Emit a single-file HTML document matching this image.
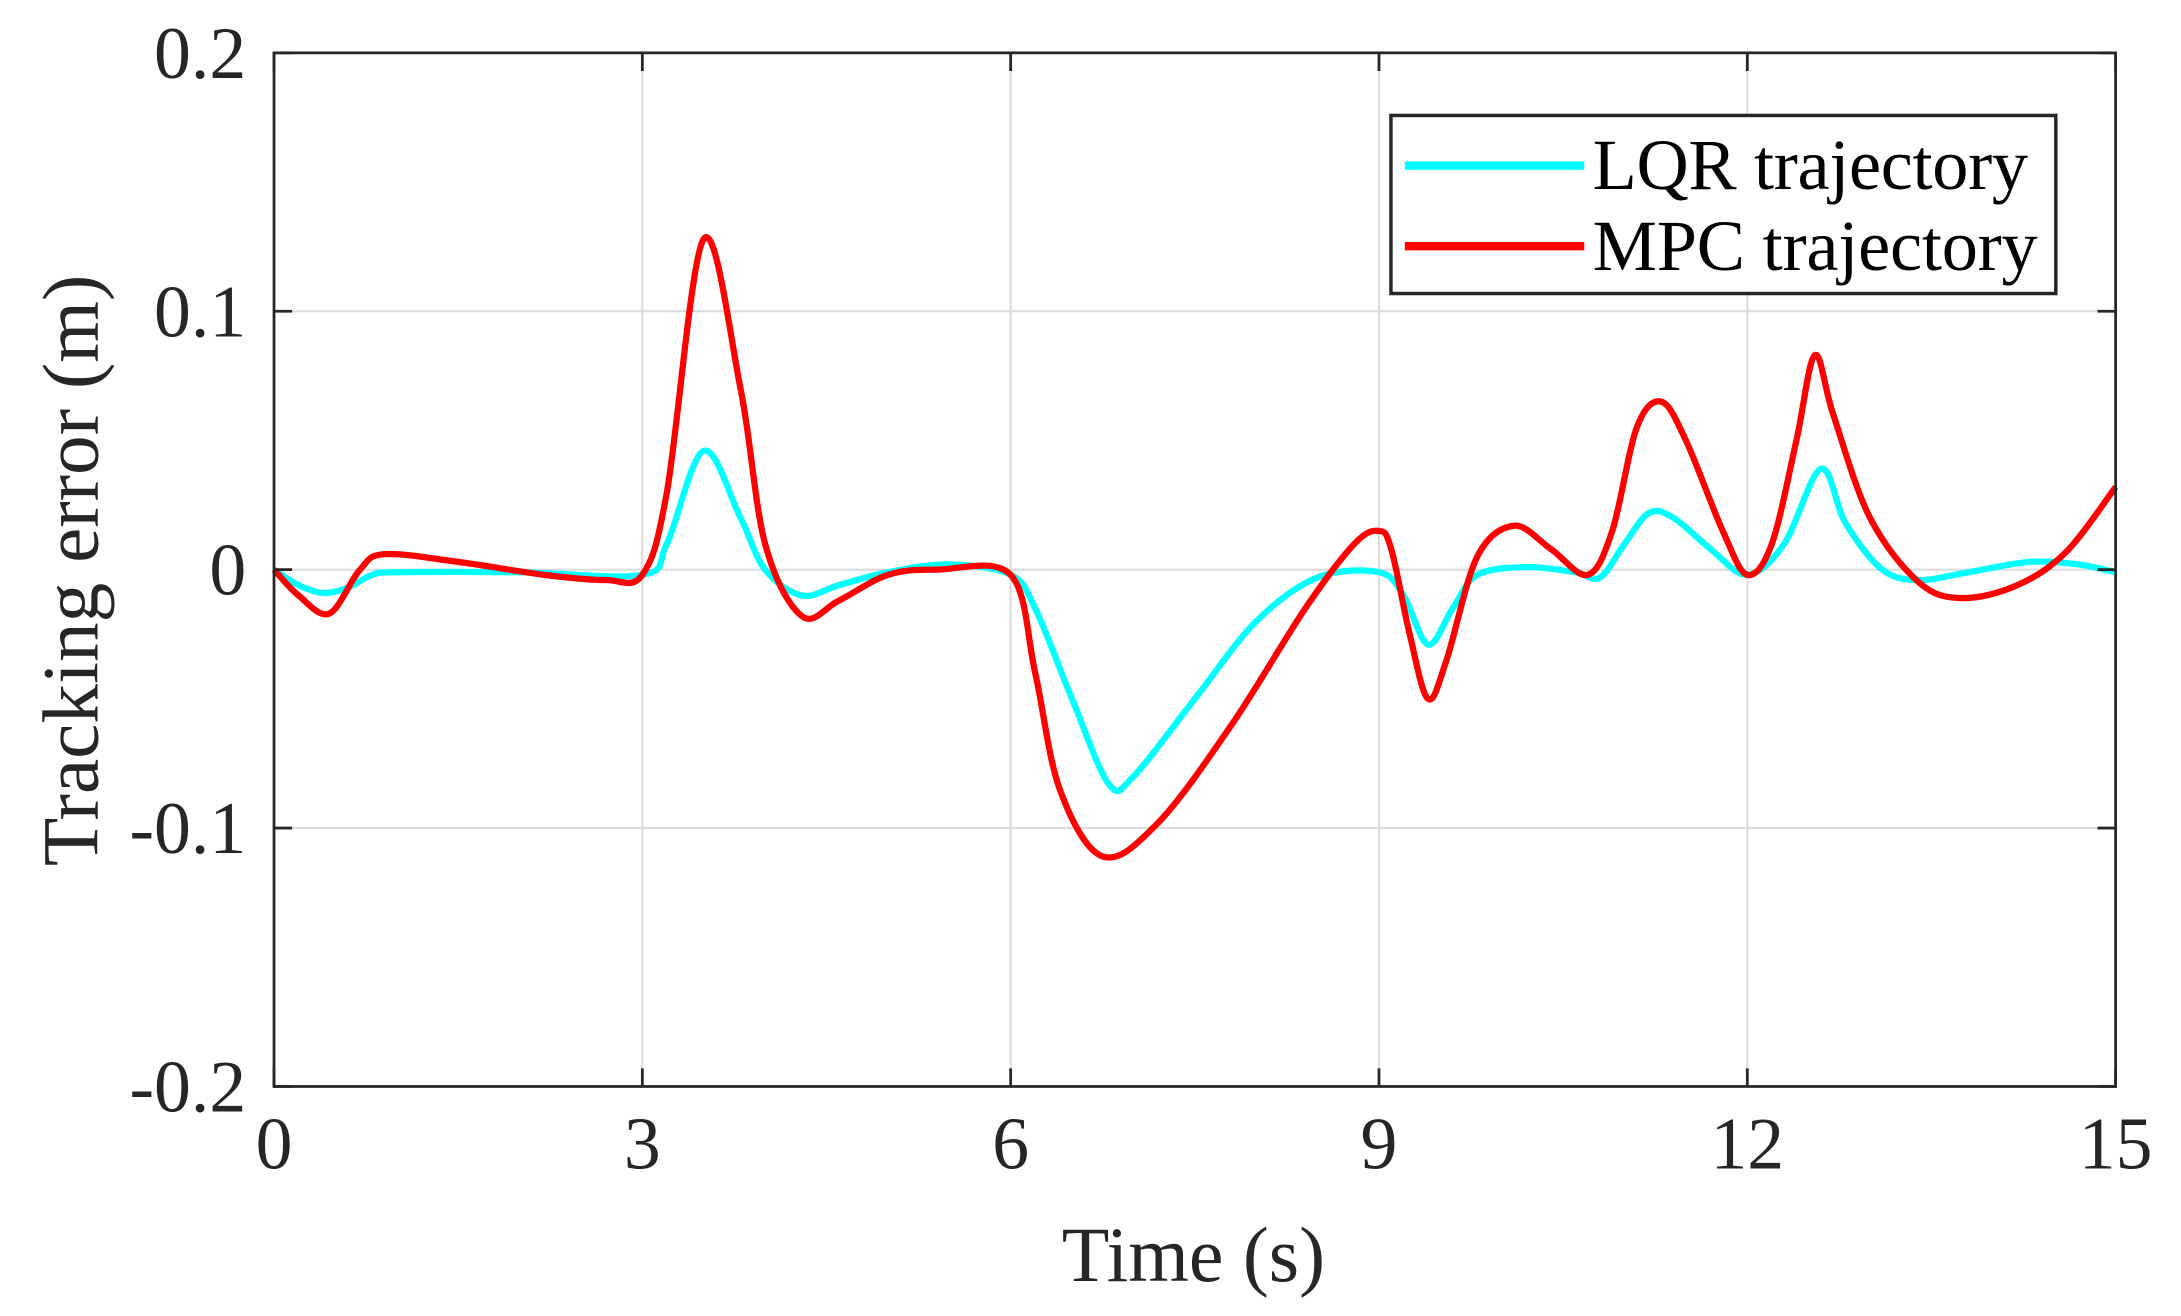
<!DOCTYPE html>
<html><head><meta charset="utf-8"><style>
html,body{margin:0;padding:0;background:#fff;}
svg{display:block;font-family:"Liberation Serif",serif;}
</style></head><body>
<svg width="2181" height="1316" viewBox="0 0 1568 946" preserveAspectRatio="none">
<g id="grid"></g>
<g id="series"></g>
<rect x="197" y="38" width="1324" height="743" fill="none" stroke="#262626" stroke-width="2"/>
<g id="ticks"></g>
<text x="858" y="921" font-size="56" text-anchor="middle" fill="#262626">Time (s)</text>
<text transform="translate(70,410) rotate(-90)" font-size="57" text-anchor="middle" fill="#262626">Tracking error (m)</text>
<g>
<rect x="1000" y="83" width="478" height="128" fill="#fff" stroke="#262626" stroke-width="2.5"/>
<line x1="1010" y1="119" x2="1139" y2="119" stroke="#00ffff" stroke-width="6"/>
<text x="1145" y="136" font-size="52" textLength="313" fill="#000">LQR trajectory</text>
<line x1="1010" y1="177" x2="1139" y2="177" stroke="#ff0000" stroke-width="6"/>
<text x="1145" y="194" font-size="52" textLength="320" fill="#000">MPC trajectory</text>
</g>
</svg>
<script>
const xTicks=[0,3,6,9,12,15];
const yTicks=[-0.2,-0.1,0,0.1,0.2];
const yTickLabels=["-0.2","-0.1","0","0.1","0.2"];
const lqrT=[0,0.2,0.4,0.6,0.8,1,2,3,3.2,3.5,3.8,4.0,4.3,4.6,5,5.5,6,6.2,6.5,6.8,7,7.5,8,8.5,9,9.2,9.4,9.6,9.8,10.2,10.6,10.8,11.0,11.2,11.4,11.7,12,12.3,12.6,12.8,13.1,13.4,13.8,14.3,14.7,15];
const lqrV=[0,-0.006,-0.009,-0.007,-0.002,-0.001,-0.001,-0.002,0.01,0.046,0.02,0.0,-0.01,-0.006,-0.001,0.002,-0.002,-0.015,-0.05,-0.083,-0.08,-0.05,-0.02,-0.003,-0.001,-0.01,-0.029,-0.015,-0.002,0.001,-0.001,-0.003,0.01,0.022,0.02,0.008,-0.002,0.01,0.039,0.018,0.0,-0.004,-0.001,0.003,0.002,-0.001];
const mpcT=[0,0.2,0.45,0.7,0.9,1.5,2.2,2.7,3,3.2,3.5,3.8,4.0,4.3,4.6,5.0,5.4,6,6.2,6.4,6.75,7.2,7.8,8.4,8.8,9,9.1,9.25,9.4,9.55,9.8,10.1,10.4,10.7,10.9,11.1,11.3,11.5,11.8,12,12.2,12.4,12.55,12.7,13.0,13.4,13.75,14.2,14.6,15];
const mpcV=[0,-0.01,-0.017,0.0,0.006,0.003,-0.002,-0.004,-0.002,0.03,0.128,0.07,0.01,-0.018,-0.012,-0.002,0.0,-0.002,-0.04,-0.085,-0.111,-0.098,-0.06,-0.015,0.01,0.015,0.008,-0.025,-0.05,-0.035,0.005,0.017,0.008,-0.002,0.015,0.055,0.065,0.05,0.015,-0.002,0.01,0.05,0.083,0.06,0.02,-0.005,-0.011,-0.006,0.007,0.032];
const NS="http://www.w3.org/2000/svg";
const X0=197,X1=1521,Y0=781,Y1=38;
const sx=t=>X0+(t-0)/(15-0)*(X1-X0);
const sy=v=>Y0-(v+0.2)/0.4*(Y0-Y1);
const grid=document.getElementById('grid'),ticks=document.getElementById('ticks'),series=document.getElementById('series');
function mk(tag,attrs,parent){const e=document.createElementNS(NS,tag);for(const k in attrs)e.setAttribute(k,attrs[k]);parent.appendChild(e);return e;}
xTicks.forEach((t,i)=>{
  if(i>0&&i<xTicks.length-1){const g=mk('line',{x1:sx(t),x2:sx(t),y1:Y1,y2:Y0,stroke:'#dcdcdc','stroke-width':1.5},grid);
  
  }
  const tk=mk('line',{x1:sx(t),x2:sx(t),y1:Y0,y2:Y0-13,stroke:'#262626','stroke-width':2},ticks);
  
  
  const tk2=mk('line',{x1:sx(t),x2:sx(t),y1:Y1,y2:Y1+13,stroke:'#262626','stroke-width':2},ticks);
  
  
  const tx=mk('text',{x:sx(t),y:840,'font-size':53,'text-anchor':'middle',fill:'#262626'},ticks);
  tx.textContent=String(t);
  
  
});
yTicks.forEach((v,i)=>{
  if(i>0&&i<yTicks.length-1){const g=mk('line',{x1:X0,x2:X1,y1:sy(v),y2:sy(v),stroke:'#dcdcdc','stroke-width':1.5},grid);
  
  }
  const tk=mk('line',{x1:X0,x2:X0+13,y1:sy(v),y2:sy(v),stroke:'#262626','stroke-width':2},ticks);
  
  
  const tk2=mk('line',{x1:X1,x2:X1-13,y1:sy(v),y2:sy(v),stroke:'#262626','stroke-width':2},ticks);
  
  
  const tx=mk('text',{x:177,y:sy(v)+18,'font-size':53,'text-anchor':'end',fill:'#262626'},ticks);
  tx.textContent=yTickLabels[i];
  
  
});
function pathFor(T,V){
  const p=T.map((t,i)=>[sx(t),sy(V[i])]);
  let d='M'+p[0][0]+','+p[0][1];
  for(let i=0;i<p.length-1;i++){
    const a=p[Math.max(0,i-1)],b=p[i],c=p[i+1],e=p[Math.min(p.length-1,i+2)];
    const c1=[b[0]+(c[0]-a[0])/6,b[1]+(c[1]-a[1])/6],c2=[c[0]-(e[0]-b[0])/6,c[1]-(e[1]-b[1])/6];
    d+=' C'+c1[0]+','+c1[1]+' '+c2[0]+','+c2[1]+' '+c[0]+','+c[1];
  }
  return d;
}
const l=mk('path',{d:pathFor(lqrT,lqrV),fill:'none',stroke:'#00ffff','stroke-width':4.5,'stroke-linejoin':'round'},series);


const m=mk('path',{d:pathFor(mpcT,mpcV),fill:'none',stroke:'#ff0000','stroke-width':4.5,'stroke-linejoin':'round'},series);


</script>
</body></html>
